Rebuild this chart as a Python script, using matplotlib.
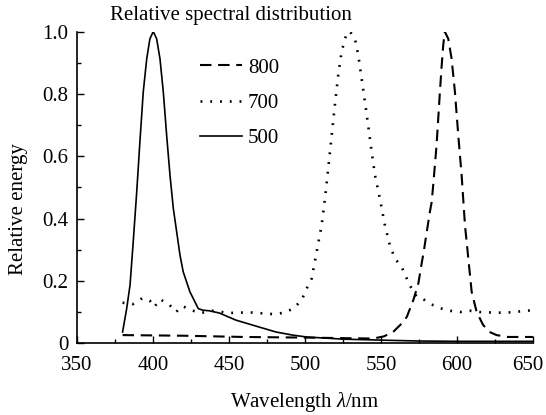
import matplotlib
matplotlib.use("Agg")
from matplotlib import pyplot as plt
from matplotlib.ticker import MultipleLocator
from matplotlib.transforms import ScaledTranslation

# 500 (solid)
wl_500 = [380, 382.7, 384.9, 387, 389.3, 391.4, 393.6, 395.9, 398, 400.2,
          402.4, 404.6, 406.8, 409, 411.2, 413.4, 415.6, 417.8, 419.9, 424.3,
          429.8, 432.7, 437, 443.6, 454.6, 465.6, 480.9, 491.9, 501, 525,
          549, 575, 600, 625, 650]
e_500 = [0.036, 0.111, 0.186, 0.325, 0.485, 0.646, 0.806, 0.913, 0.977, 1.0,
         0.977, 0.913, 0.806, 0.667, 0.539, 0.432, 0.357, 0.282, 0.229, 0.165,
         0.111, 0.106, 0.104, 0.097, 0.074, 0.058, 0.036, 0.026, 0.02, 0.013,
         0.01, 0.007, 0.006, 0.006, 0.006]

# 700 (dotted)
wl_700 = [380, 386.6, 393.2, 398, 400.9, 404.6, 410.7, 415.1, 419.5, 425,
          431.6, 439.3, 450.2, 463.4, 474.3, 479.8, 486.4, 492.3, 497.8, 501.1,
          504.4, 507.7, 511, 513.2, 515.3, 517.6, 519.7, 521.9, 524.1, 527.4,
          529.6, 532.9, 535.1, 537.3, 539.5, 541.6, 543.9, 546.1, 549.3, 552.6,
          555.9, 559.2, 563.6, 569, 573.5, 579, 584.4, 590, 595.4, 602,
          608.6, 615, 626, 632.7, 643.6, 650]
e_700 = [0.13, 0.125, 0.145, 0.136, 0.116, 0.141, 0.124, 0.10, 0.119, 0.106,
         0.097, 0.104, 0.097, 0.099, 0.095, 0.093, 0.098, 0.111, 0.138, 0.175,
         0.207, 0.293, 0.379, 0.464, 0.56, 0.667, 0.764, 0.86, 0.935, 0.994,
         1.0, 0.977, 0.924, 0.849, 0.774, 0.699, 0.614, 0.539, 0.464, 0.379,
         0.314, 0.272, 0.245, 0.186, 0.149, 0.138, 0.122, 0.111, 0.104, 0.1,
         0.104, 0.1, 0.098, 0.098, 0.103, 0.106]

# 800 (dashed)
wl_800 = [380, 420, 460, 500, 545, 552, 558, 563, 567, 571.3,
          574.6, 576.8, 578.3, 582.2, 583.4, 584.4, 585.5, 586.6, 587.7, 588.8,
          590, 591, 592, 594.3, 596.5, 598.7, 600.9, 603.1, 605.3, 607.5,
          609.7, 613, 617.3, 622, 626.1, 633.8, 650]
e_800 = [0.026, 0.024, 0.02, 0.018, 0.015, 0.022, 0.036, 0.06, 0.084, 0.138,
         0.191, 0.256, 0.298, 0.421, 0.453, 0.507, 0.571, 0.635, 0.72, 0.806,
         0.892, 0.956, 1.0, 0.977, 0.913, 0.806, 0.667, 0.539, 0.379, 0.272,
         0.165, 0.1, 0.058, 0.035, 0.026, 0.02, 0.02]

x_ticks = [350, 400, 450, 500, 550, 600, 650]
y_ticks = [0, 0.2, 0.4, 0.6, 0.8, 1.0]
y_ticklabels = ["0", "0.2", "0.4", "0.6", "0.8", "1.0"]

plt.rcParams["font.family"] = ["Liberation Serif", "DejaVu Serif"]
plt.rcParams["mathtext.fontset"] = "custom"
plt.rcParams["mathtext.rm"] = "Liberation Serif"
plt.rcParams["mathtext.it"] = "Liberation Serif:italic"

fig = plt.figure(figsize=(5.46, 4.15), dpi=100)
ax = fig.add_axes([0.141, 0.173, 0.835, 0.751])

ax.plot(wl_800, e_800, color="black", lw=1.5, dashes=(5.5, 3.2), label="800")
ax.plot(wl_700, e_700, color="black", lw=1.9, linestyle=(0, (0.7, 3.0)),
        label="700")
ax.plot(wl_500, e_500, color="black", lw=1.2, label="500")

ax.set_xlim(350, 650)
ax.set_ylim(0, 1.0)
ax.set_xticks(x_ticks)
ax.set_yticks(y_ticks)
ax.set_yticklabels(y_ticklabels)
ax.xaxis.set_minor_locator(MultipleLocator(25))
ax.yaxis.set_minor_locator(MultipleLocator(0.1))
ax.tick_params(which="both", direction="in", labelsize=15, width=1)
ax.tick_params(which="major", length=5)
ax.tick_params(which="minor", length=3)
ax.tick_params(axis="y", pad=6)
ax.tick_params(axis="x", pad=9)

# keep the last x label inside the picture
last = ax.get_xticklabels()[-1]
last.set_transform(last.get_transform() + ScaledTranslation(-5 / 100, 0, fig.dpi_scale_trans))

for s in ["top", "right"]:
    ax.spines[s].set_visible(False)
for s in ["left", "bottom"]:
    ax.spines[s].set_linewidth(1.2)

ax.set_xlabel(r"Wavelength $\mathit{\lambda}$/nm", fontsize=15, labelpad=11)
ax.set_ylabel("Relative energy", fontsize=15)
ax.yaxis.set_label_coords(-0.107, 0.43)

fig.text(0.423, 0.962, "Relative spectral distribution", fontsize=15,
         ha="center", va="center")

leg = ax.legend(loc="upper left", bbox_to_anchor=(0.27, 0.915), frameon=False,
                fontsize=15, handlelength=2.0, handletextpad=0.3,
                labelspacing=0.75, borderpad=0, borderaxespad=0)

fig.savefig("out.png", dpi=100)
